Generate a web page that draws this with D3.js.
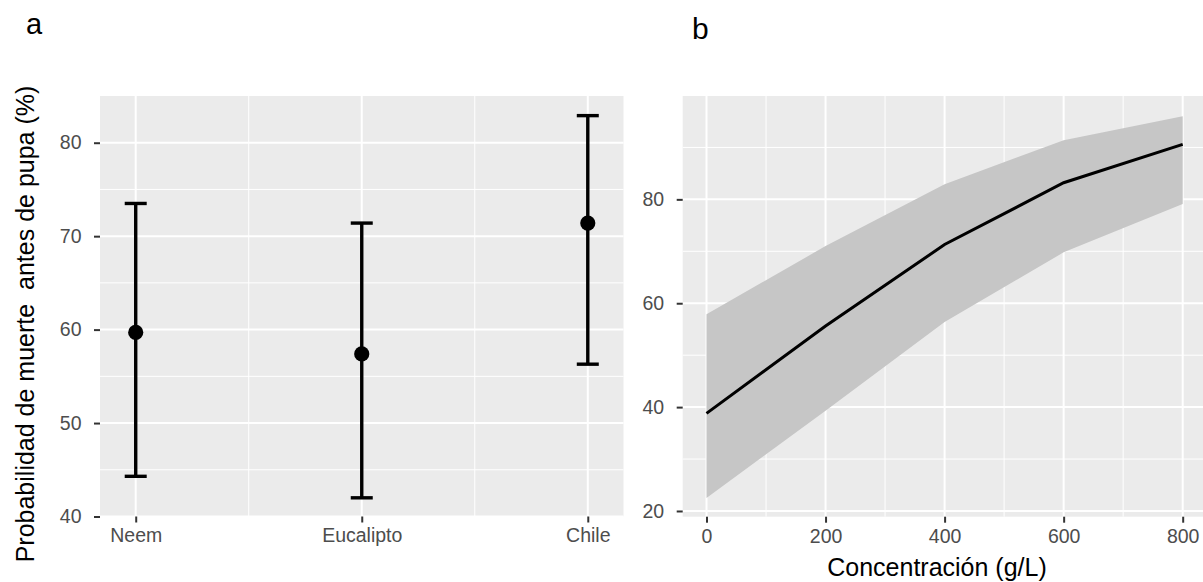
<!DOCTYPE html>
<html>
<head>
<meta charset="utf-8">
<script src="https://cdn.jsdelivr.net/npm/d3@7"></script>
<style>
  html, body { margin: 0; padding: 0; background: #fff; }
  svg { display: block; font-family: "Liberation Sans", Arial, sans-serif; }
</style>
</head>
<body>
<svg id="chart" width="1203" height="582"></svg>
<script>
// ---------- Data ----------
const categories = ["Neem", "Eucalipto", "Chile"];
const meanProb   = [59.7, 57.4, 71.4];
const lowerCI    = [44.3, 42.0, 56.3];
const upperCI    = [73.5, 71.4, 82.9];
const yTicksA    = [40, 50, 60, 70, 80];
const yMinorA    = [45, 55, 65, 75];

const concentration = [0, 200, 400, 600, 800];
const fitB          = [38.8, 55.6, 71.3, 83.2, 90.6];
const lowB          = [22.5, 39.3, 56.4, 69.8, 79.1];
const highB         = [57.9, 71.0, 82.9, 91.4, 96.0];
const xTicksB       = [0, 200, 400, 600, 800];
const xMinorB       = [100, 300, 500, 700];
const yTicksB       = [20, 40, 60, 80];
const yMinorB       = [30, 50, 70, 90];

// ---------- Setup ----------
const svg = d3.select("#chart");
const panelBg = "#ebebeb";
const tickTextColor = "#4d4d4d";
const tickColor = "#333333";
const tickFont = 19.5;
const titleFont = 25;

function gridAndAxes(g, x, y, opts) {
  const [x0, x1] = opts.xRange, [y0, y1] = opts.yRange; // y0 bottom, y1 top
  g.append("rect").attr("x", x0).attr("y", y1).attr("width", x1 - x0).attr("height", y0 - y1)
    .attr("fill", panelBg);
  opts.yMinor.forEach(v => g.append("line").attr("x1", x0).attr("x2", x1)
    .attr("y1", y(v)).attr("y2", y(v)).attr("stroke", "#fff").attr("stroke-width", 1));
  opts.xMinorPx.forEach(px => g.append("line").attr("x1", px).attr("x2", px)
    .attr("y1", y1).attr("y2", y0).attr("stroke", "#fff").attr("stroke-width", 1));
  opts.yMajor.forEach(v => g.append("line").attr("x1", x0).attr("x2", x1)
    .attr("y1", y(v)).attr("y2", y(v)).attr("stroke", "#fff").attr("stroke-width", 2));
  opts.xMajorPx.forEach(px => g.append("line").attr("x1", px).attr("x2", px)
    .attr("y1", y1).attr("y2", y0).attr("stroke", "#fff").attr("stroke-width", 2));
}

function drawAxes(g, opts) {
  const [x0, x1] = opts.xRange, [y0, y1] = opts.yRange;
  const yAxis = d3.axisLeft(opts.y).tickValues(opts.yMajor).tickSize(6).tickPadding(12.5);
  const ya = g.append("g").attr("transform", `translate(${x0},0)`).call(yAxis);
  ya.select(".domain").remove();
  ya.selectAll(".tick line").attr("stroke", tickColor).attr("stroke-width", 2);
  ya.selectAll(".tick text").attr("fill", tickTextColor).attr("font-size", tickFont)
    .attr("font-family", "Liberation Sans, Arial, sans-serif");
  const xAxis = d3.axisBottom(opts.x).tickSize(6).tickPadding(6);
  if (opts.xTickValues) xAxis.tickValues(opts.xTickValues);
  const xa = g.append("g").attr("transform", `translate(0,${y0})`).call(xAxis);
  xa.select(".domain").remove();
  xa.selectAll(".tick line").attr("stroke", tickColor).attr("stroke-width", 2);
  xa.selectAll(".tick text").attr("fill", tickTextColor).attr("font-size", tickFont)
    .attr("font-family", "Liberation Sans, Arial, sans-serif");
}

// ---------- Panel a ----------
{
  const g = svg.append("g");
  const xRange = [100, 623.5], yRange = [516.5, 96];
  const x = d3.scalePoint().domain(categories).range(xRange).padding(0.158);
  const y = d3.scaleLinear().domain([40, 85]).range(yRange);
  const xMajorPx = categories.map(c => x(c));
  const xMinorPx = d3.pairs(xMajorPx).map(([a, b]) => (a + b) / 2);
  gridAndAxes(g, x, y, { xRange, yRange, yMinor: yMinorA, yMajor: yTicksA, xMajorPx, xMinorPx });

  const capHalf = 11;
  categories.forEach((c, i) => {
    const cx = x(c);
    g.append("line").attr("x1", cx).attr("x2", cx).attr("y1", y(lowerCI[i])).attr("y2", y(upperCI[i]))
      .attr("stroke", "#000").attr("stroke-width", 3.4);
    [lowerCI[i], upperCI[i]].forEach(v => g.append("line")
      .attr("x1", cx - capHalf).attr("x2", cx + capHalf).attr("y1", y(v)).attr("y2", y(v))
      .attr("stroke", "#000").attr("stroke-width", 3.4));
    g.append("circle").attr("cx", cx).attr("cy", y(meanProb[i])).attr("r", 7.6).attr("fill", "#000");
  });

  drawAxes(g, { x, y, xRange, yRange, yMajor: yTicksA });

  g.append("text").attr("transform", "translate(34,324) rotate(-90)")
    .attr("text-anchor", "middle").attr("font-size", titleFont).attr("fill", "#000")
    .attr("xml:space", "preserve").style("white-space", "pre")
    .text("Probabilidad de muerte  antes de pupa (%)");

  svg.append("text").attr("x", 26).attr("y", 33.5).attr("font-size", 29).attr("fill", "#000").text("a");
}

// ---------- Panel b ----------
{
  const g = svg.append("g");
  const xRange = [682.7, 1206.5], yRange = [516.7, 96];
  const x = d3.scaleLinear().domain([-40, 840]).range(xRange);
  const y = d3.scaleLinear().domain([18.9, 99.9]).range(yRange);
  gridAndAxes(g, x, y, { xRange, yRange, yMinor: yMinorB, yMajor: yTicksB,
    xMajorPx: xTicksB.map(x), xMinorPx: xMinorB.map(x) });

  const rows = concentration.map((c, i) => ({ c, fit: fitB[i], lo: lowB[i], hi: highB[i] }));
  g.append("path").datum(rows)
    .attr("d", d3.area().x(d => x(d.c)).y0(d => y(d.lo)).y1(d => y(d.hi)))
    .attr("fill", "#c6c6c6");
  g.append("path").datum(rows)
    .attr("d", d3.line().x(d => x(d.c)).y(d => y(d.fit)))
    .attr("fill", "none").attr("stroke", "#000").attr("stroke-width", 3);

  drawAxes(g, { x, y, xRange, yRange, yMajor: yTicksB, xTickValues: xTicksB });

  g.append("text").attr("x", 937).attr("y", 576).attr("text-anchor", "middle")
    .attr("font-size", titleFont).attr("fill", "#000").text("Concentración (g/L)");

  svg.append("text").attr("x", 692).attr("y", 39.3).attr("font-size", 30).attr("fill", "#000").text("b");
}
</script>
</body>
</html>
